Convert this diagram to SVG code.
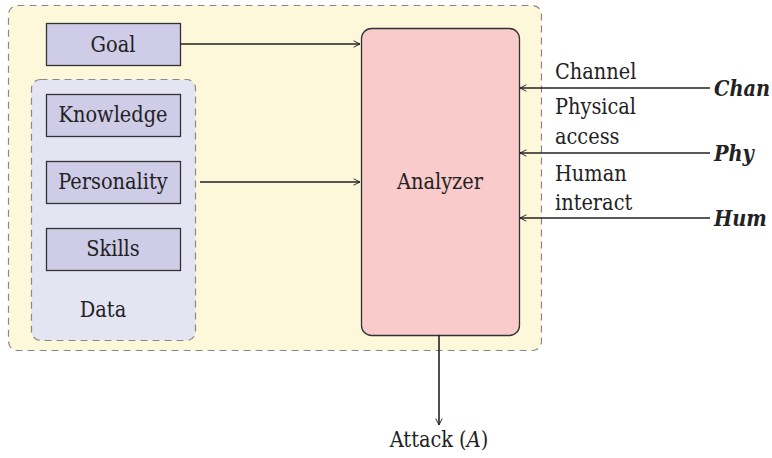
<svg xmlns="http://www.w3.org/2000/svg" width="772" height="458" viewBox="0 0 772 458">
<defs>
<marker id="ah" viewBox="0 0 10 10" refX="9" refY="5" markerWidth="8" markerHeight="8" orient="auto" markerUnits="userSpaceOnUse">
<path d="M1,1 L9,5 L1,9" fill="none" stroke="#222" stroke-width="1.2"/>
</marker>
<style>
text{font-family:'DejaVu Serif Condensed','DejaVu Serif',serif;font-size:21.5px;fill:#222}
.box{fill:#cfcce8;stroke:#333;stroke-width:1.3}
.it{font-style:italic;font-weight:bold}
.ln{stroke:#222;stroke-width:1.6;fill:none;marker-end:url(#ah)}
</style>
</defs>
<rect width="772" height="458" fill="#fff"/>
<g id="container">
<rect x="8.5" y="5.5" width="533" height="345" rx="9" fill="#fdf8d9" stroke="#888" stroke-width="1.2" stroke-dasharray="7,5"/>
</g>
<g id="data">
<rect x="31.5" y="79.5" width="164" height="261" rx="9" fill="#e5e4f3" stroke="#888" stroke-width="1.2" stroke-dasharray="7,5"/>
<text x="103" y="317" text-anchor="middle">Data</text>
</g>
<g id="goal"><rect class="box" x="46.5" y="23.5" width="134" height="42"/><text x="113" y="52" text-anchor="middle">Goal</text></g>
<g id="knowledge"><rect class="box" x="46.5" y="94.5" width="134" height="42"/><text x="113" y="122" text-anchor="middle">Knowledge</text></g>
<g id="personality"><rect class="box" x="46.5" y="161.5" width="134" height="42"/><text x="113" y="189" text-anchor="middle">Personality</text></g>
<g id="skills"><rect class="box" x="46.5" y="228.5" width="134" height="42"/><text x="113" y="256" text-anchor="middle">Skills</text></g>
<g id="analyzer"><rect x="361.5" y="28.5" width="158" height="307" rx="10" fill="#f9cbcb" stroke="#333" stroke-width="1.3"/><text x="440" y="189" text-anchor="middle">Analyzer</text></g>
<g id="labels">
<text x="555" y="79">Channel</text>
<text x="555" y="114">Physical</text>
<text x="555" y="144">access</text>
<text x="555" y="181">Human</text>
<text x="555" y="210">interact</text>
<text class="it" x="714" y="96">Chan</text>
<text class="it" x="714" y="161">Phy</text>
<text class="it" x="714" y="226">Hum</text>
<text x="439" y="447" text-anchor="middle">Attack (<tspan font-style="italic">A</tspan>)</text>
</g>
<g id="connectors">
<line class="ln" x1="180" y1="44" x2="360" y2="44"/>
<line class="ln" x1="200" y1="182" x2="360" y2="182"/>
<line class="ln" x1="710" y1="88" x2="520" y2="88"/>
<line class="ln" x1="710" y1="153" x2="520" y2="153"/>
<line class="ln" x1="710" y1="218" x2="520" y2="218"/>
<line class="ln" x1="439" y1="335" x2="439" y2="425"/>
</g>
</svg>
